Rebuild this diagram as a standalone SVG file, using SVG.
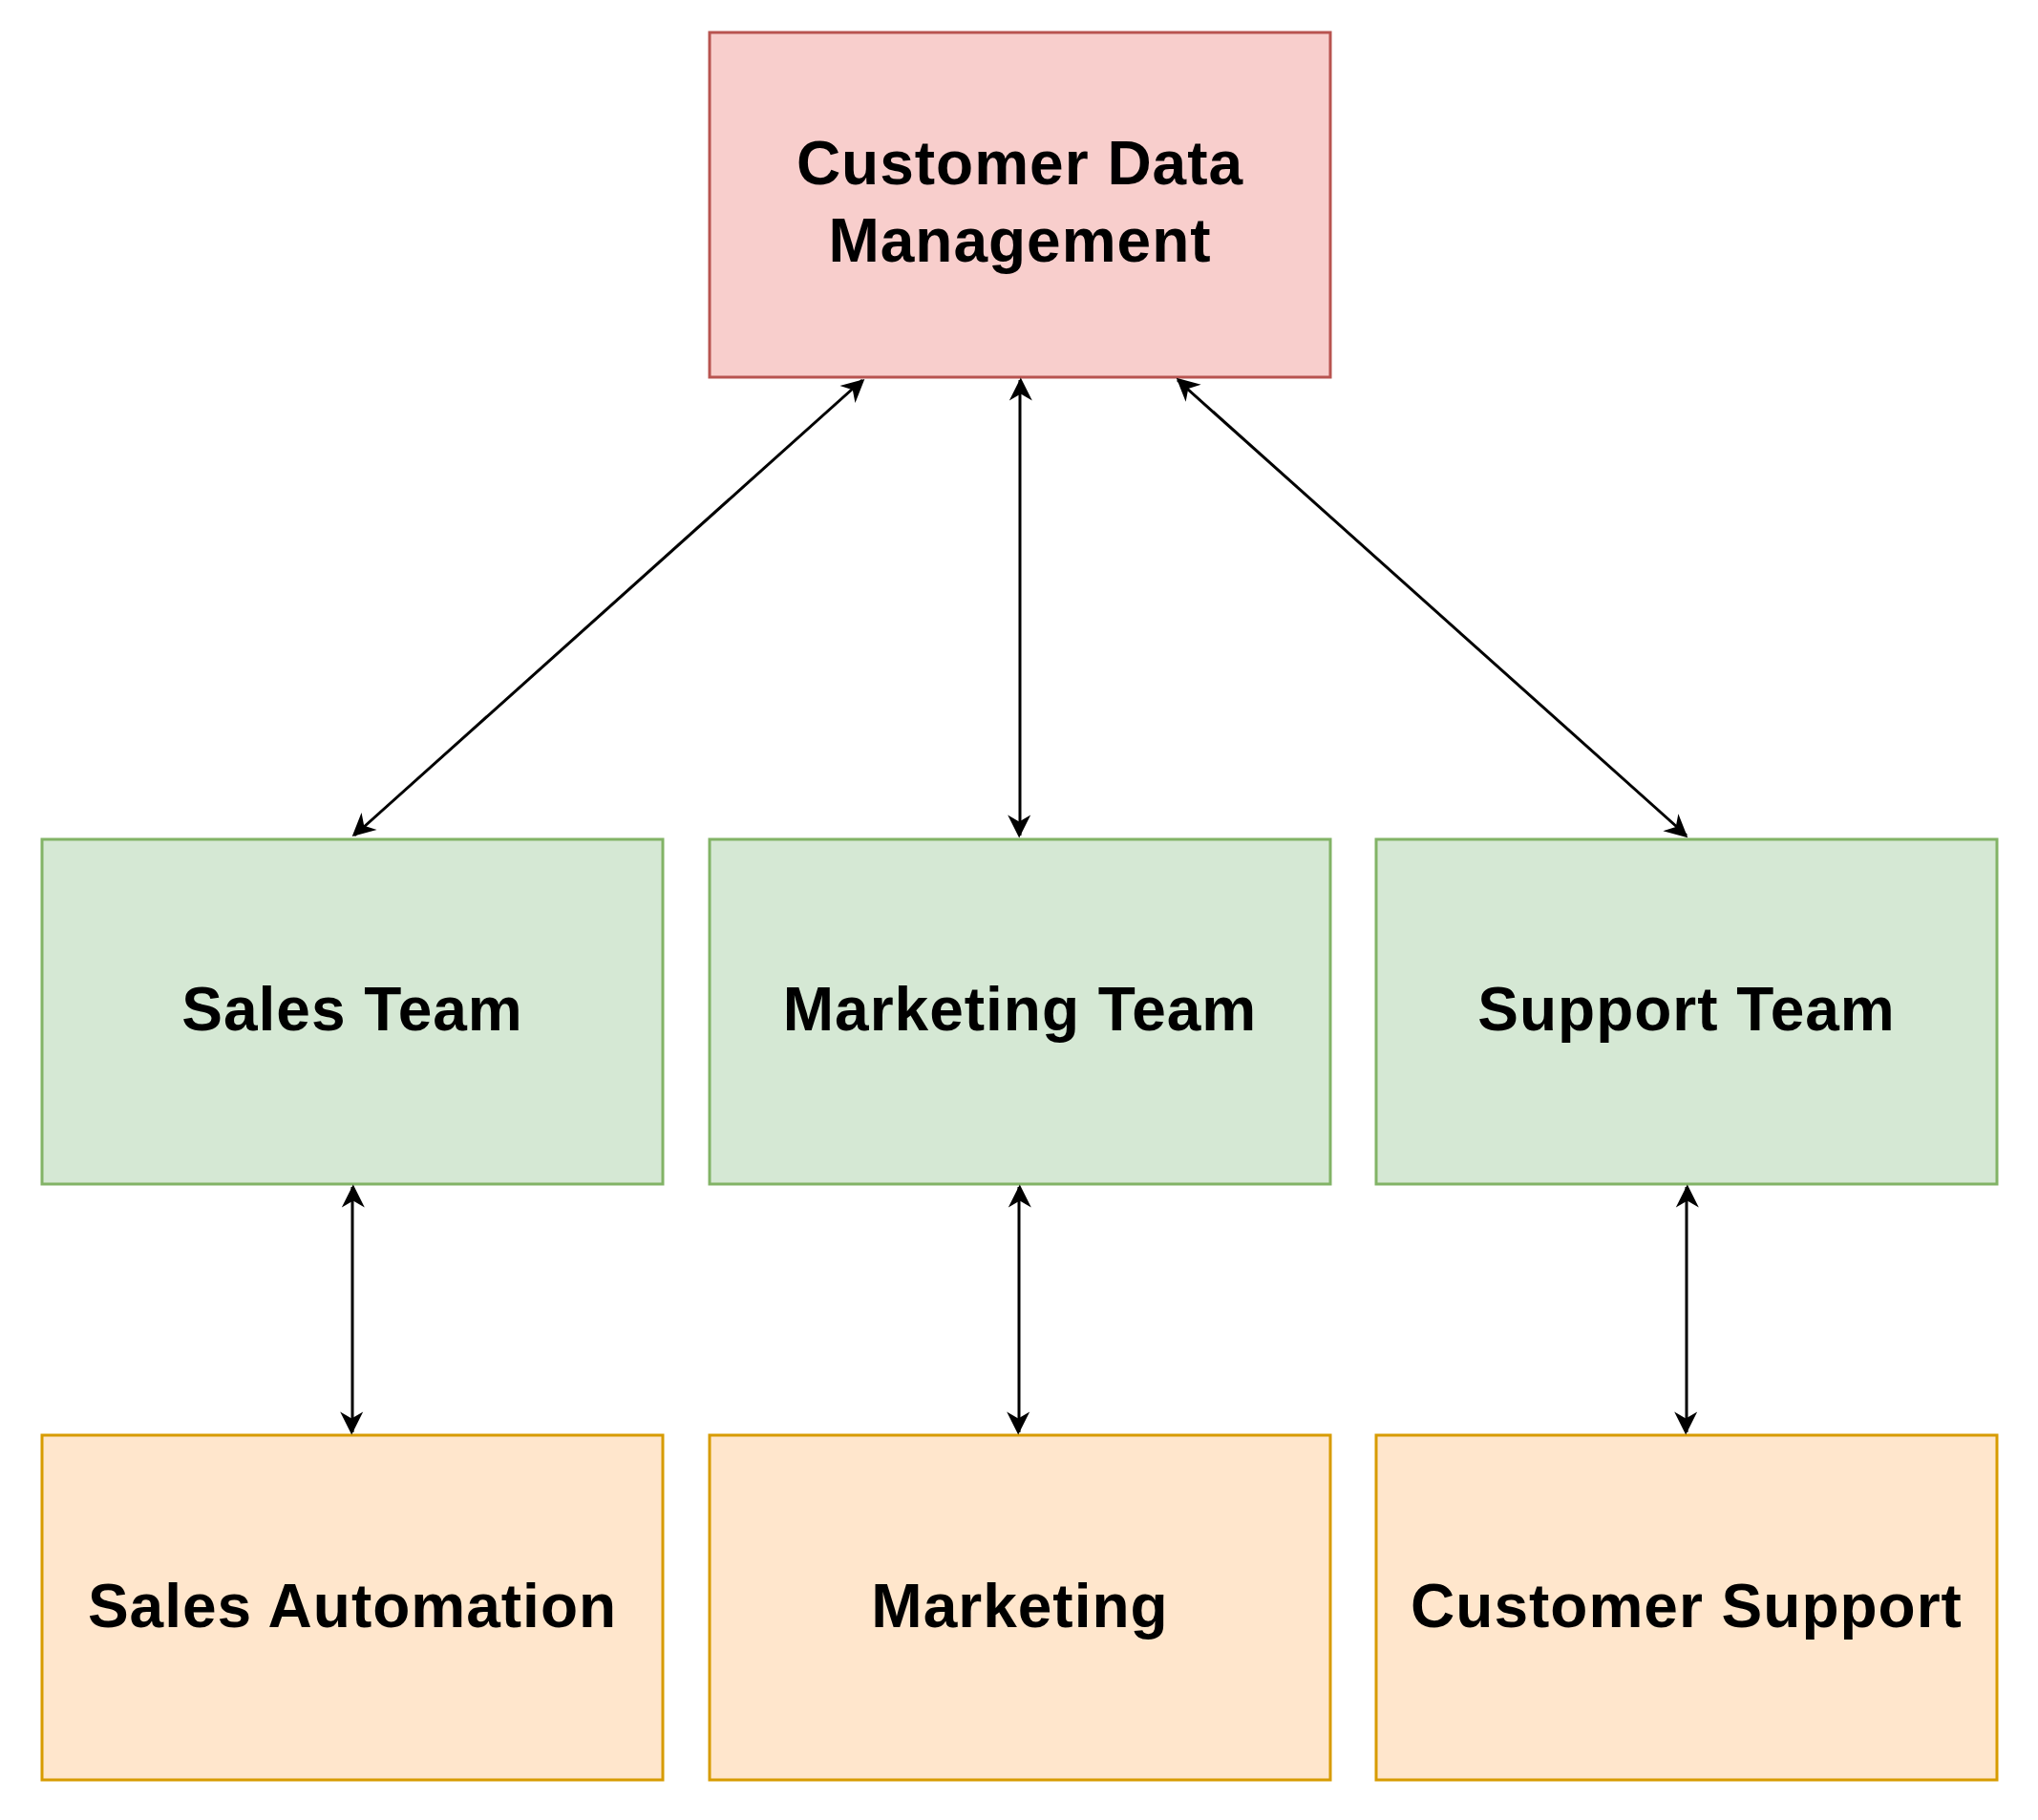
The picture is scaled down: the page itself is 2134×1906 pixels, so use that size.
<svg xmlns="http://www.w3.org/2000/svg" width="2134" height="1906" viewBox="0 0 2134 1906">
<style>
.r{fill:#f8cecc;stroke:#b85450;stroke-width:3}
.g{fill:#d5e8d4;stroke:#82b366;stroke-width:3}
.o{fill:#ffe6cc;stroke:#d79b00;stroke-width:3}
text{font-family:"Liberation Sans",Arial,sans-serif;font-weight:bold;font-size:64px;letter-spacing:1px;fill:#000;text-anchor:middle;dominant-baseline:central}
.c{stroke:#000;stroke-width:3;fill:none;marker-start:url(#a);marker-end:url(#a)}
</style>
<defs><marker id="a" viewBox="0 0 10 10" refX="9" refY="5" markerWidth="8" markerHeight="8" orient="auto-start-reverse" markerUnits="userSpaceOnUse" style="overflow:visible"><path d="M0,0 L10,5 L0,10 L3,5 Z" transform="scale(3) translate(-6,-3)" fill="#000"/></marker></defs>
<rect width="2134" height="1906" fill="#fff"/>
<g id="cdm"><rect class="r" x="743" y="34" width="650" height="361"/><text x="1068" y="171">Customer Data</text><text x="1068" y="252">Management</text></g>
<g id="sales"><rect class="g" x="44" y="879" width="650" height="361"/><text x="369" y="1057">Sales Team</text></g>
<g id="mkt"><rect class="g" x="743" y="879" width="650" height="361"/><text x="1068" y="1057">Marketing Team</text></g>
<g id="sup"><rect class="g" x="1441" y="879" width="650" height="361"/><text x="1766" y="1057">Support Team</text></g>
<g id="sa"><rect class="o" x="44" y="1503" width="650" height="361"/><text x="369" y="1682">Sales Automation</text></g>
<g id="m"><rect class="o" x="743" y="1503" width="650" height="361"/><text x="1068" y="1682">Marketing</text></g>
<g id="cs"><rect class="o" x="1441" y="1503" width="650" height="361"/><text x="1766" y="1682">Customer Support</text></g>
<g id="connectors">
<path class="c" d="M903,398 L371,875"/>
<path class="c" d="M1068,398 L1068,875"/>
<path class="c" d="M1233,398 L1766,875"/>
<path class="c" d="M369,1243 L369,1500"/>
<path class="c" d="M1067,1243 L1067,1500"/>
<path class="c" d="M1766,1243 L1766,1500"/>
</g>
</svg>
